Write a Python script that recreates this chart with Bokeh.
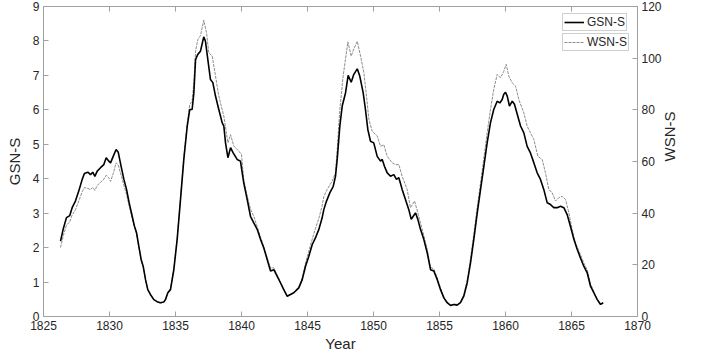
import math
from bokeh.plotting import figure
from bokeh.models import (Range1d, LinearAxis, FixedTicker, Legend, LegendItem, Title)
from bokeh.embed import file_html
from bokeh.resources import INLINE

# ---- data ----
gsn_years = [1826.29, 1826.5, 1826.74, 1826.99, 1827.17, 1827.42, 1827.67, 1827.93, 1828.1, 1828.36,
             1828.56, 1828.73, 1828.89, 1829.07, 1829.32, 1829.57, 1829.75, 1829.95, 1830.08, 1830.28,
             1830.5, 1830.66, 1830.88, 1831.09, 1831.29, 1831.49, 1831.72, 1831.89, 1832.05, 1832.22,
             1832.4, 1832.55, 1832.73, 1832.9, 1833.1, 1833.36, 1833.61, 1833.86, 1834.11, 1834.24,
             1834.42, 1834.62, 1834.87, 1835.13, 1835.38, 1835.63, 1835.89, 1836.08, 1836.26, 1836.39,
             1836.52, 1836.69, 1836.89, 1837.14, 1837.27, 1837.45, 1837.65, 1837.83, 1838.03, 1838.28,
             1838.54, 1838.66, 1838.79, 1838.97, 1839.17, 1839.37, 1839.67, 1839.92, 1840.17, 1840.43,
             1840.68, 1840.93, 1841.19, 1841.44, 1841.69, 1841.95, 1842.2, 1842.45, 1842.7, 1842.95,
             1843.2, 1843.46, 1843.71, 1843.96, 1844.34, 1844.6, 1844.85, 1845.1, 1845.36, 1845.6,
             1845.86, 1846.1, 1846.24, 1846.44, 1846.69, 1846.95, 1847.12, 1847.25, 1847.45, 1847.63,
             1847.88, 1848.08, 1848.31, 1848.51, 1848.77, 1848.96, 1849.22, 1849.39, 1849.57, 1849.77,
             1850.02, 1850.28, 1850.53, 1850.66, 1850.83, 1851.04, 1851.29, 1851.54, 1851.74, 1851.92,
             1852.17, 1852.42, 1852.67, 1852.86, 1853.01, 1853.18, 1853.36, 1853.56, 1853.81, 1854.07,
             1854.32, 1854.57, 1854.83, 1855.08, 1855.33, 1855.58, 1855.83, 1856.08, 1856.34, 1856.59,
             1856.84, 1857.1, 1857.35, 1857.6, 1857.86, 1858.11, 1858.36, 1858.61, 1858.86, 1859.11,
             1859.37, 1859.57, 1859.75, 1859.87, 1860.0, 1860.13, 1860.3, 1860.51, 1860.68, 1860.89,
             1861.14, 1861.39, 1861.64, 1861.89, 1862.15, 1862.4, 1862.65, 1862.9, 1863.16, 1863.41,
             1863.66, 1863.92, 1864.17, 1864.42, 1864.67, 1864.92, 1865.18, 1865.43, 1865.68, 1865.93,
             1866.19, 1866.44, 1866.69, 1866.95, 1867.2, 1867.4]
gsn_values = [2.19, 2.55, 2.87, 2.93, 3.16, 3.35, 3.64, 3.98, 4.15, 4.19,
              4.12, 4.19, 4.07, 4.22, 4.32, 4.41, 4.61, 4.51, 4.46, 4.65,
              4.85, 4.77, 4.36, 3.98, 3.69, 3.30, 2.91, 2.62, 2.43, 2.04,
              1.65, 1.46, 1.07, 0.78, 0.64, 0.49, 0.43, 0.40, 0.42, 0.49,
              0.69, 0.78, 1.35, 2.25, 3.40, 4.56, 5.53, 6.01, 6.01, 6.49,
              7.46, 7.61, 7.70, 8.12, 7.99, 7.46, 6.88, 6.79, 6.40, 6.01,
              5.62, 5.53, 5.04, 4.61, 4.90, 4.75, 4.56, 4.51, 3.88, 3.40,
              2.91, 2.72, 2.53, 2.24, 1.99, 1.65, 1.32, 1.36, 1.17, 0.98,
              0.78, 0.59, 0.64, 0.69, 0.83, 1.07, 1.46, 1.75, 2.09, 2.28,
              2.53, 2.85, 3.11, 3.35, 3.59, 3.78, 4.07, 4.56, 5.53, 6.11,
              6.49, 7.00, 6.80, 7.03, 7.19, 6.98, 6.49, 6.01, 5.43, 5.09,
              5.04, 4.65, 4.51, 4.56, 4.36, 4.17, 4.07, 4.12, 3.98, 4.03,
              3.69, 3.40, 3.11, 2.82, 2.91, 3.01, 2.82, 2.53, 2.24, 1.85,
              1.36, 1.32, 1.07, 0.78, 0.54, 0.40, 0.32, 0.35, 0.33, 0.40,
              0.59, 0.98, 1.56, 2.24, 3.01, 3.69, 4.36, 5.04, 5.62, 6.01,
              6.25, 6.20, 6.30, 6.45, 6.51, 6.40, 6.11, 6.25, 6.16, 5.87,
              5.53, 5.33, 4.94, 4.75, 4.46, 4.17, 3.98, 3.69, 3.30, 3.25,
              3.16, 3.16, 3.20, 3.16, 2.96, 2.62, 2.24, 1.95, 1.70, 1.46,
              1.27, 0.88, 0.69, 0.49, 0.35, 0.40]

wsn_years = [1826.29, 1826.5, 1826.74, 1826.99, 1827.17, 1827.42, 1827.67, 1827.93, 1828.1, 1828.36,
             1828.56, 1828.73, 1828.89, 1829.07, 1829.32, 1829.57, 1829.75, 1829.95, 1830.08, 1830.28,
             1830.5, 1830.66, 1830.88, 1831.09, 1831.29, 1831.49, 1831.72, 1831.89, 1832.05, 1832.22,
             1832.4, 1832.55, 1832.73, 1832.9, 1833.1, 1833.36, 1833.61, 1833.86, 1834.11, 1834.24,
             1834.42, 1834.62, 1834.87, 1835.13, 1835.38, 1835.63, 1835.89, 1836.08, 1836.26, 1836.39,
             1836.52, 1836.69, 1836.89, 1837.14, 1837.35, 1837.52, 1837.78, 1838.03, 1838.28, 1838.66,
             1838.97, 1839.17, 1839.42, 1839.8, 1840.0, 1840.17, 1840.43, 1840.68, 1840.93, 1841.19,
             1841.44, 1841.69, 1841.95, 1842.2, 1842.45, 1842.7, 1842.95, 1843.2, 1843.46, 1843.71,
             1843.96, 1844.34, 1844.6, 1844.85, 1845.1, 1845.36, 1845.6, 1845.86, 1846.1, 1846.24,
             1846.49, 1846.87, 1847.12, 1847.25, 1847.45, 1847.7, 1848.06, 1848.31, 1848.51, 1848.77,
             1849.02, 1849.27, 1849.47, 1849.65, 1849.9, 1850.28, 1850.53, 1850.78, 1851.04, 1851.42,
             1851.67, 1851.92, 1852.17, 1852.55, 1852.8, 1853.11, 1853.36, 1853.69, 1854.07, 1854.32,
             1854.57, 1854.83, 1855.08, 1855.33, 1855.58, 1855.83, 1856.08, 1856.34, 1856.59, 1856.84,
             1857.1, 1857.35, 1857.6, 1857.86, 1858.11, 1858.36, 1858.61, 1858.86, 1859.11, 1859.37,
             1859.62, 1859.87, 1860.05, 1860.25, 1860.51, 1860.76, 1861.01, 1861.39, 1861.64, 1861.89,
             1862.15, 1862.45, 1862.78, 1863.03, 1863.28, 1863.53, 1863.79, 1864.04, 1864.29, 1864.55,
             1864.8, 1865.05, 1865.3, 1865.68, 1865.93, 1866.19, 1866.44, 1866.69, 1866.95, 1867.2,
             1867.4]
wsn_values = [26.7, 31.3, 35.3, 36.7, 39.3, 41.3, 44.7, 48.3, 49.9, 49.6,
              49.1, 50.0, 48.8, 50.7, 52.0, 53.1, 54.7, 53.7, 52.3, 55.3,
              59.5, 58.7, 54.7, 50.7, 47.3, 42.7, 38.0, 34.7, 32.0, 26.9,
              22.0, 19.3, 14.3, 10.4, 8.4, 6.4, 5.6, 5.1, 5.6, 6.7,
              9.3, 10.7, 18.4, 30.7, 46.0, 61.6, 74.9, 82.0, 83.3, 90.7,
              102.7, 107.2, 108.7, 114.7, 109.9, 102.1, 100.8, 93.1, 85.3, 77.6,
              67.2, 70.4, 66.0, 64.0, 62.7, 53.1, 46.7, 41.5, 38.8, 34.7,
              30.7, 27.1, 22.7, 18.7, 18.9, 16.0, 13.3, 10.7, 7.7, 8.5,
              9.3, 11.5, 14.9, 20.7, 25.3, 30.0, 34.0, 38.0, 42.7, 46.5,
              49.2, 52.4, 55.6, 64.7, 80.1, 93.1, 106.3, 100.8, 103.6, 106.5,
              100.8, 94.4, 85.3, 76.3, 71.7, 69.9, 65.9, 66.5, 62.0, 59.5,
              58.8, 58.8, 54.3, 49.2, 42.1, 44.7, 40.1, 33.7, 26.0, 19.1,
              18.4, 14.9, 10.9, 7.5, 5.6, 4.4, 4.8, 4.7, 5.7, 8.4,
              14.0, 22.4, 32.0, 42.4, 51.7, 61.3, 71.1, 80.0, 87.9, 93.7,
              92.4, 94.9, 97.6, 93.1, 90.4, 89.2, 84.0, 78.8, 73.7, 71.1,
              68.5, 62.0, 60.8, 55.6, 49.2, 47.9, 44.7, 46.0, 46.5, 45.3,
              40.1, 33.7, 28.5, 24.0, 20.7, 18.1, 12.7, 9.6, 6.7, 4.7,
              5.3]

x_ticks = [1825, 1830, 1835, 1840, 1845, 1850, 1855, 1860, 1865, 1870]
gsn_ticks = [0, 1, 2, 3, 4, 5, 6, 7, 8, 9]
wsn_ticks = [0, 20, 40, 60, 80, 100, 120]

FONT = "Liberation Sans"
AX = "#a0a0a0"
TXT = "#262626"
FRAME_H = 310

p = figure(frame_width=594, frame_height=FRAME_H, output_backend="svg", toolbar_location=None,
           x_range=Range1d(1825, 1870), y_range=Range1d(0, 9),
           min_border_left=43, min_border_right=63, min_border_top=6, min_border_bottom=0)
p.extra_y_ranges = {"wsn": Range1d(0, 120)}
p.xgrid.visible = False
p.ygrid.visible = False
p.outline_line_color = AX
p.background_fill_color = "white"
p.border_fill_color = "white"


def style_axis(ax, ticks):
    ax.ticker = FixedTicker(ticks=ticks)
    ax.axis_line_color = AX
    ax.major_tick_line_color = AX
    ax.major_tick_in = 5
    ax.major_tick_out = 0
    ax.minor_tick_line_color = None
    ax.major_label_text_font = FONT
    ax.major_label_text_font_size = "12px"
    ax.major_label_text_color = TXT
    ax.axis_label_text_font = FONT
    ax.axis_label_text_font_size = "15px"
    ax.axis_label_text_font_style = "normal"
    ax.axis_label_text_color = TXT


xa = p.xaxis[0]
style_axis(xa, x_ticks)
xa.major_label_standoff = 4

ya = p.yaxis[0]
style_axis(ya, gsn_ticks)
ya.axis_label = "GSN-S"
ya.major_label_standoff = 4
ya.axis_label_standoff = 7

ra = LinearAxis(y_range_name="wsn")
style_axis(ra, wsn_ticks)
ra.major_label_standoff = 4
ra.axis_label = "WSN-S"
ra.axis_label_standoff = 5
if "axis_label_orientation" in ra.properties():
    ra.axis_label_orientation = math.pi / 2
p.add_layout(ra, "right")

ta = LinearAxis()
style_axis(ta, x_ticks)
ta.major_label_text_font_size = "1px"
ta.major_label_text_color = None
ta.major_label_standoff = 0
p.add_layout(ta, "above")

p.add_layout(Title(text="Year", align="center", text_font=FONT, text_font_size="15px",
                   text_font_style="normal", text_color=TXT, standoff=0, offset=0), "below")

r_w = p.line(wsn_years, wsn_values, y_range_name="wsn", line_color="#8c8c8c",
             line_width=1, line_dash="3 1")
r_g = p.line(gsn_years, gsn_values, line_color="black", line_width=1.6)


def make_legend(label, rend, top_gap):
    lg = Legend(items=[LegendItem(label=label, renderers=[rend])])
    lg.border_line_color = AX
    lg.border_line_width = 1
    lg.background_fill_color = "white"
    lg.background_fill_alpha = 1
    lg.label_text_font = FONT
    lg.label_text_font_size = "12px"
    lg.label_text_color = TXT
    lg.padding = 1
    lg.spacing = 0
    lg.margin = 0
    lg.glyph_width = 20
    lg.glyph_height = 10
    lg.label_height = 10
    lg.label_standoff = 3
    lg.location = (519, FRAME_H - top_gap - 17)
    return lg


p.add_layout(make_legend("GSN-S", r_g, 8))
p.add_layout(make_legend("WSN-S", r_w, 28))

open("out.html", "w").write(file_html(p, INLINE))
